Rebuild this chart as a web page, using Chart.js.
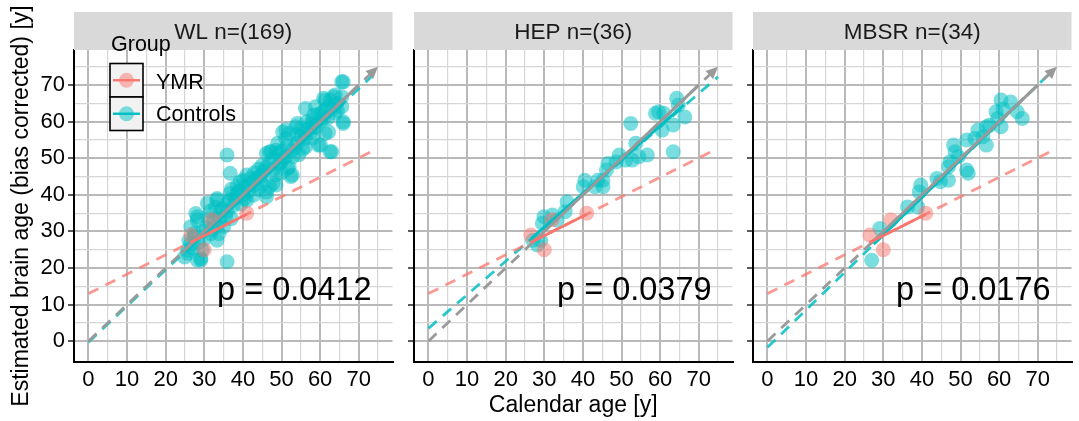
<!DOCTYPE html>
<html>
<head>
<meta charset="utf-8">
<script src="https://cdn.jsdelivr.net/npm/chart.js@4.4.0/dist/chart.umd.min.js"></script>
<style>
  html, body { margin: 0; padding: 0; background: #fff; }
  body { width: 1079px; height: 421px; position: relative; overflow: hidden; }
  canvas { position: absolute; top: 0; }
</style>
</head>
<body>
<canvas id="wl" width="400" height="421" style="left:0"></canvas>
<canvas id="hep" width="340" height="421" style="left:400px"></canvas>
<canvas id="mbsr" width="339" height="421" style="left:740px"></canvas>
<script>
// grid breaks: majors every 10 get labels, minors at the 5s
const breaks = [0, 5, 10, 15, 20, 25, 30, 35, 40, 45, 50, 55, 60, 65, 70, 75];
const xRange = [-3.75, 78.75];
const yRange = [-5.7, 79.6];

const panelTitles = ['WL n=(169)', 'HEP n=(36)', 'MBSR n=(34)'];
const pValues = ['p = 0.0412', 'p = 0.0379', 'p = 0.0176'];

// YMR reference group (same four subjects in each panel)
const ymrPoints = [[26.5, 29.0], [30.0, 25.0], [32.0, 33.2], [41.0, 35.0]];
const ymrSolid = [[26.5, 27.0], [41, 34.7]];
const ymrDashed = [[0, 13.0], [74, 52.2]];

// identity line
const identityDashed = [[0, 0], [75, 75]];
const identitySolid = [[[24, 24], [70, 70]], [[26.5, 26.5], [70, 70]], [[26.5, 26.5], [70, 70]]];

// control fits per panel
const ctrlSolid = [
  [[25, 24.5], [66, 65.0]],
  [[26.6, 28.0], [66.2, 64.6]],
  [[27.5, 26.5], [65, 65.0]],
];
const ctrlDashed = [
  [[0, -0.3], [74.5, 73.5]],
  [[0, 3.5], [75, 72.3]],
  [[0, -1.7], [74, 74.1]],
];

const wlControls = [
  [25.7, 24.0], [26.5, 26.7], [25.7, 24.9], [24.9, 23.0], [27.8, 34.9], [28.2, 33.1], [28.2, 34.0], [26.5, 31.3],
  [27.4, 28.5], [29.1, 22.2], [29.5, 24.9], [28.2, 22.1], [29.1, 22.6], [30.8, 37.7], [31.6, 29.4], [32.5, 33.1],
  [33.3, 27.6], [33.3, 31.3], [33.8, 29.4], [32.9, 36.7], [33.3, 39.0], [33.3, 38.6], [34.2, 35.8], [35.0, 31.3],
  [34.6, 36.3], [35.9, 21.7], [26.0, 27.5], [27.0, 25.5], [28.5, 27.0], [30.0, 28.0], [30.5, 31.0], [31.0, 33.5],
  [29.5, 30.0], [31.5, 35.5], [32.0, 30.5], [27.5, 29.5],
  [35.9, 50.9], [36.7, 45.9], [36.3, 38.1], [36.7, 38.6], [36.7, 40.4], [38.4, 40.4], [37.5, 37.0], [38.0, 39.0],
  [39.3, 43.6], [40.1, 44.0], [40.5, 42.2], [40.5, 39.0], [41.0, 45.4], [41.5, 41.0], [42.0, 43.0], [42.7, 39.9],
  [43.1, 42.7], [43.5, 44.5], [44.4, 44.9], [44.8, 45.4], [45.0, 43.0], [45.5, 46.5], [46.1, 39.5], [46.1, 40.8],
  [46.9, 42.2], [46.1, 51.3], [46.9, 51.8], [47.3, 51.8], [47.8, 50.0], [47.8, 43.1], [48.6, 42.7], [48.6, 52.2],
  [49.0, 54.1], [49.4, 48.6], [49.9, 49.0], [48.0, 47.0], [47.0, 48.5], [46.0, 47.5], [45.0, 48.0], [44.0, 47.0],
  [43.0, 46.0], [42.0, 44.5], [39.0, 41.0], [37.0, 41.5], [38.5, 42.5],
  [50.3, 57.2], [51.1, 50.4], [51.1, 55.4], [51.1, 57.7], [51.6, 47.2], [52.0, 47.7], [52.0, 56.8], [52.4, 45.0],
  [52.8, 45.4], [53.7, 58.6], [54.1, 54.1], [54.1, 59.5], [55.0, 56.0], [55.5, 52.5], [56.2, 53.1], [56.2, 55.4],
  [56.2, 56.8], [56.2, 63.6], [57.0, 58.0], [57.9, 59.5], [57.9, 60.4], [58.3, 61.8], [58.4, 58.6], [58.8, 64.1],
  [59.6, 53.6], [60.1, 53.6], [60.1, 60.4], [60.9, 60.9], [60.9, 66.4], [61.3, 63.2], [61.3, 65.9], [61.3, 56.8],
  [62.2, 57.2], [62.2, 64.1], [62.6, 65.9], [62.6, 51.8], [63.0, 51.8], [63.4, 66.8], [63.9, 62.3], [63.9, 67.3],
  [64.3, 65.0], [65.6, 64.1], [65.6, 66.8], [65.6, 70.9], [66.0, 70.9], [66.0, 59.5], [66.0, 60.0], [50.0, 52.0],
  [50.5, 50.0], [52.5, 52.0], [53.0, 50.5], [54.0, 56.5], [55.0, 58.0], [53.5, 53.0], [49.5, 51.5], [51.5, 53.5],
  [57.5, 57.0], [59.0, 58.5], [59.5, 62.0], [60.5, 62.5], [62.0, 61.0], [63.0, 63.5], [64.5, 63.0], [58.0, 55.5],
  [56.5, 60.0], [54.5, 51.0], [48.5, 45.5], [50.0, 46.0], [44.0, 41.5], [41.0, 38.5], [40.0, 40.0], [39.5, 37.5],
  [35.5, 34.0], [36.0, 35.5], [34.0, 33.5], [37.0, 33.5],
];

const hepControls = [
  [64.3, 66.4], [64.7, 64.5], [59.6, 62.7], [58.8, 62.3], [60.9, 62.3], [66.4, 61.3], [63.4, 59.1], [60.5, 57.7],
  [52.4, 59.5], [63.4, 51.8], [53.7, 54.1], [56.7, 50.9], [54.5, 50.4], [52.8, 49.5], [49.4, 50.9], [48.6, 49.0],
  [46.5, 48.6], [46.1, 46.8], [45.2, 44.0], [43.9, 44.0], [43.1, 42.2], [40.5, 44.0], [40.1, 42.2], [45.2, 42.2],
  [35.9, 38.1], [35.4, 35.4], [32.1, 34.5], [29.9, 34.0], [29.5, 32.2], [27.0, 27.6], [29.1, 27.6], [28.2, 26.3],
  [33.3, 33.1], [51.1, 49.5],
];

const mbsrControls = [
  [60.5, 65.9], [63.0, 65.4], [59.2, 62.7], [59.6, 60.9], [64.7, 62.7], [66.0, 60.9], [56.7, 58.6], [54.5, 57.7],
  [55.8, 55.9], [53.7, 55.4], [51.6, 55.0], [56.7, 53.6], [48.2, 53.6], [49.4, 50.4], [47.3, 49.0], [46.9, 47.7],
  [51.6, 46.8], [52.0, 45.9], [43.9, 44.5], [44.8, 43.6], [46.9, 44.0], [39.7, 42.7], [39.3, 40.8], [36.3, 36.7],
  [38.9, 36.7], [29.1, 30.8], [27.0, 22.1], [48.6, 51.8], [57.5, 59.0], [61.0, 63.5], [60.5, 58.6],
];

const controls = [wlControls, hepControls, mbsrControls];

const FONT = '"Liberation Sans", Arial, Helvetica, sans-serif';
const COL = {
  ymr: '#F8766D',
  ctrl: '#00BFC4',
  gray: '#9A9A9A',
  major: '#B9B9B9',
  minor: '#D6D6D6',
  strip: '#D9D9D9',
};

function pts(list) {
  return list.map(([x, y]) => ({ x, y }));
}

function lineSet(list, color, width, dashed, order) {
  return {
    data: pts(list),
    showLine: true,
    borderColor: color,
    borderWidth: width,
    borderDash: dashed ? [11, 8] : [],
    pointRadius: 0,
    order,
  };
}

function pointSet(list, color, order) {
  return {
    data: pts(list),
    backgroundColor: color,
    borderWidth: 0,
    pointRadius: 7.5,
    order,
  };
}

const decor = {
  id: 'decor',
  afterDatasetsDraw(chart, args, opts) {
    // arrow head at the end of the identity line
    const { ctx, scales: { x, y } } = chart;
    const [a, b] = [identityDashed[0], identityDashed[1]];
    const tx = x.getPixelForValue(b[0]), ty = y.getPixelForValue(b[1]);
    const ang = Math.atan2(ty - y.getPixelForValue(a[1]), tx - x.getPixelForValue(a[0]));
    const len = 12, half = 5.5;
    ctx.save();
    ctx.fillStyle = COL.gray;
    ctx.beginPath();
    ctx.moveTo(tx, ty);
    ctx.lineTo(tx - len * Math.cos(ang) + half * Math.sin(ang), ty - len * Math.sin(ang) - half * Math.cos(ang));
    ctx.lineTo(tx - len * Math.cos(ang) - half * Math.sin(ang), ty - len * Math.sin(ang) + half * Math.cos(ang));
    ctx.closePath();
    ctx.fill();

    // p value annotation
    ctx.fillStyle = '#000';
    ctx.font = '32.5px ' + FONT;
    ctx.textAlign = 'left';
    ctx.textBaseline = 'alphabetic';
    ctx.fillText(opts.p, x.getPixelForValue(33.3), y.getPixelForValue(11.2));
    ctx.restore();
  },
  afterDraw(chart, args, opts) {
    const { ctx, chartArea: ca } = chart;
    ctx.save();
    ctx.fillStyle = COL.strip;
    ctx.fillRect(ca.left, 12, ca.right - ca.left, 38);
    ctx.fillStyle = '#1A1A1A';
    ctx.font = '22.5px ' + FONT;
    ctx.textAlign = 'center';
    ctx.textBaseline = 'alphabetic';
    ctx.fillText(opts.title, (ca.left + ca.right) / 2, 39);

    if (opts.legend) {
      ctx.textAlign = 'left';
      ctx.fillStyle = '#000';
      ctx.font = '21.5px ' + FONT;
      ctx.fillText('Group', 111, 51);
      const keys = [['YMR', COL.ymr, 'rgba(248,118,109,0.5)'], ['Controls', COL.ctrl, 'rgba(0,191,196,0.5)']];
      keys.forEach(([label, line, fill], i) => {
        const top = 63.5 + i * 33.5;
        ctx.fillStyle = '#F2F2F2';
        ctx.fillRect(110, top, 33, 33.5);
        ctx.strokeStyle = '#000';
        ctx.lineWidth = 1.6;
        ctx.strokeRect(110, top, 33, 33.5);
        const cy = top + 16.75;
        ctx.fillStyle = fill;
        ctx.beginPath();
        ctx.arc(126.5, cy, 7.5, 0, Math.PI * 2);
        ctx.fill();
        ctx.strokeStyle = line;
        ctx.lineWidth = 2.4;
        ctx.beginPath();
        ctx.moveTo(113, cy);
        ctx.lineTo(140, cy);
        ctx.stroke();
        ctx.fillStyle = '#000';
        ctx.fillText(label, 156, i === 0 ? 89 : 121);
      });
    }
    ctx.restore();
  },
};

function gridColor(c) {
  return c.tick && c.tick.value % 10 === 0 ? COL.major : COL.minor;
}
function gridWidth(c) {
  return c.tick && c.tick.value % 10 === 0 ? 2 : 1.2;
}
function setBreaks(scale) {
  scale.ticks = breaks.map((v) => ({ value: v }));
}

function makePanel(id, i, opt) {
  const datasets = [
    lineSet(ymrSolid, COL.ymr, 2.8, false, 1),
    lineSet(identitySolid[i], COL.gray, 3, false, 2),
    lineSet(ctrlSolid[i], COL.ctrl, 3, false, 3),
    lineSet(ymrDashed, 'rgba(248,118,109,0.75)', 2.8, true, 4),
    lineSet(identityDashed, COL.gray, 2.8, true, 5),
    lineSet(ctrlDashed[i], 'rgba(0,191,196,0.85)', 2.8, true, 6),
    pointSet(ymrPoints, 'rgba(248,118,109,0.5)', 7),
    pointSet(controls[i], 'rgba(0,191,196,0.52)', 8),
  ];
  return new Chart(document.getElementById(id), {
    type: 'scatter',
    data: { datasets },
    plugins: [decor],
    options: {
      responsive: false,
      animation: false,
      layout: { padding: { top: 50, right: opt.padRight, left: 0, bottom: 0 } },
      plugins: {
        legend: { display: false },
        tooltip: { enabled: false },
        decor: { title: panelTitles[i], p: pValues[i], legend: i === 0 },
      },
      scales: {
        x: {
          type: 'linear',
          min: xRange[0],
          max: xRange[1],
          afterBuildTicks: setBreaks,
          afterFit: (s) => { s.height = 59; },
          grid: { color: gridColor, lineWidth: gridWidth, drawTicks: false },
          border: { display: true, color: '#000', width: 2 },
          ticks: {
            autoSkip: false,
            maxRotation: 0,
            padding: 5,
            color: '#000',
            font: { family: FONT, size: 22 },
            callback: (v) => (v % 10 === 0 ? String(v) : ''),
          },
          title: {
            display: i === 1,
            text: 'Calendar age [y]',
            color: '#000',
            font: { family: FONT, size: 23 },
            padding: { top: 0, bottom: 2 },
          },
        },
        y: {
          type: 'linear',
          min: yRange[0],
          max: yRange[1],
          afterBuildTicks: setBreaks,
          afterFit: (s) => { s.width = opt.yWidth; },
          grid: {
            color: gridColor,
            lineWidth: gridWidth,
            tickLength: 6,
            tickWidth: 1.6,
            tickColor: (c) => (c.tick && c.tick.value % 10 === 0 ? '#333' : 'rgba(0,0,0,0)'),
          },
          border: { display: true, color: '#000', width: 2 },
          ticks: {
            autoSkip: false,
            padding: 3,
            color: '#000',
            font: { family: FONT, size: 22 },
            callback: (v) => (i === 0 && v % 10 === 0 ? String(v) : ''),
          },
          title: {
            display: i === 0,
            text: 'Estimated brain age (bias corrected) [y]',
            color: '#000',
            font: { family: FONT, size: 23 },
            padding: { top: 8, bottom: 0 },
          },
        },
      },
    },
  });
}

makePanel('wl', 0, { yWidth: 74, padRight: 2 });
makePanel('hep', 1, { yWidth: 14, padRight: 2 });
makePanel('mbsr', 2, { yWidth: 13, padRight: 1 });
</script>
</body>
</html>
